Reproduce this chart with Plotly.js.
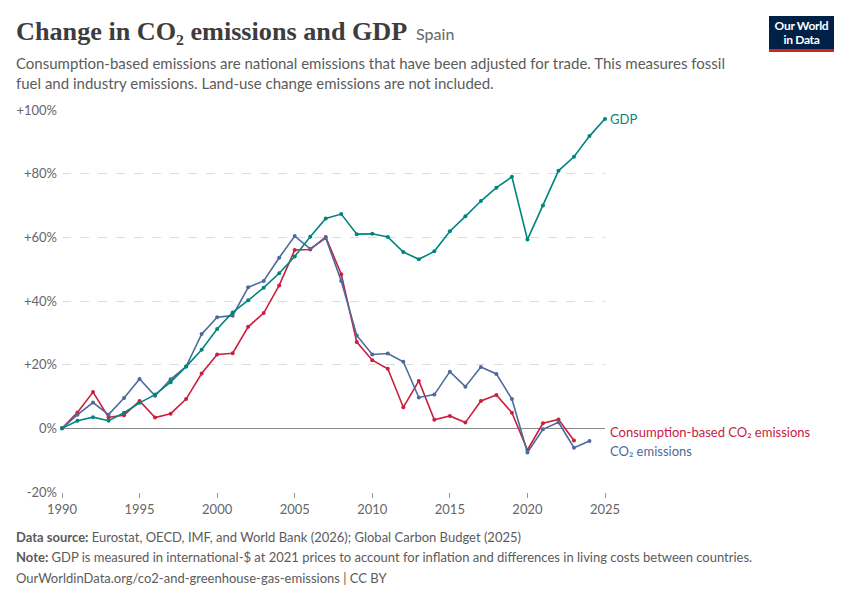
<!DOCTYPE html>
<html>
<head>
<meta charset="utf-8">
<script src="https://cdn.plot.ly/plotly-3.0.1.min.js"></script>
<style>
  html, body { margin: 0; padding: 0; background: #fff; }
  #chart { width: 850px; height: 600px; position: relative; }
  #logo { position: absolute; left: 769px; top: 16px; width: 65px; height: 36px; background: #002147;
          border-bottom: 3px solid #ce261e; box-sizing: border-box; color: #fff; font-family: Lato, sans-serif;
          font-weight: 700; font-size: 12px; text-align: center; padding-top: 3px; letter-spacing: -0.3px; }
  #logo div { line-height: 14px; height: 14px; }
</style>
</head>
<body>
<div id="chart"></div>
<div id="logo"><div>Our World</div><div>in Data</div></div>
<script>
const years = [1990,1991,1992,1993,1994,1995,1996,1997,1998,1999,2000,2001,2002,2003,2004,2005,2006,2007,2008,2009,2010,2011,2012,2013,2014,2015,2016,2017,2018,2019,2020,2021,2022,2023,2024,2025];

const gdp = [0,2.4,3.5,2.4,4.9,8.0,10.6,14.5,19.4,24.7,31.2,36.4,40.2,44.2,48.7,54.0,60.2,65.9,67.3,61.0,61.1,60.1,55.4,53.1,55.6,61.9,66.6,71.4,75.6,79.0,59.3,70.0,80.9,85.3,91.8,97.2];

const co2Years = years.slice(0, 35); // 1990-2024
const co2 = [0,4.3,8.1,4.3,9.5,15.5,10.2,15.4,19.4,29.6,34.9,35.4,44.3,46.3,53.6,60.4,56.4,59.8,46.3,29.2,23.2,23.5,20.9,9.7,10.6,17.8,13.1,19.3,17.1,9.2,-7.6,-0.3,1.9,-6.1,-4.0];

const consYears = years.slice(0, 34); // 1990-2023
const cons = [0,5.0,11.4,3.5,4.1,8.6,3.4,4.6,9.2,17.2,23.2,23.6,31.9,36.2,44.9,56.0,56.2,60.1,48.4,27.1,21.4,18.7,6.6,14.9,2.7,3.9,1.8,8.6,10.5,4.9,-6.8,1.6,2.8,-3.8];

const yTicks = [-20,0,20,40,60,80,100];
const yTickText = ['-20%','0%','+20%','+40%','+60%','+80%','+100%'];
const xTicks = [1990,1995,2000,2005,2010,2015,2020,2025];

const cGdp = '#00847e', cCons = '#c8203e', cCo2 = '#4c6a9c';

function series(x, y, color, name) {
  return { x: x, y: y, name: name, type: 'scatter', mode: 'lines+markers',
    line: { color: color, width: 1.6 }, marker: { color: color, size: 4 },
    hoverinfo: 'skip', showlegend: false, cliponaxis: false };
}

const traces = [
  series(consYears, cons, cCons, 'Consumption-based CO₂ emissions'),
  series(co2Years, co2, cCo2, 'CO₂ emissions'),
  series(years, gdp, cGdp, 'GDP')
];

// page-pixel helpers for text blocks outside the plot area
const M = { l: 62, r: 245, t: 110, b: 108 };
const PW = 850 - M.l - M.r, PH = 600 - M.t - M.b;
const px = v => (v - M.l) / PW;
const py = v => (600 - M.b - v) / PH;

const gray = '#5b5b5b';
function txt(x, y, text, font, extra) {
  return Object.assign({ xref: 'paper', yref: 'paper', x: px(x), y: py(y), xanchor: 'left', yanchor: 'middle',
    showarrow: false, align: 'left', text: text, font: font }, extra || {});
}
const footFont = { family: 'Lato, sans-serif', size: 13, color: gray };

const annotations = [
  txt(14, 31, '<b>Change in CO₂ emissions and GDP</b>', { family: 'Liberation Serif, serif', size: 26.2, color: '#3d3d3d' }),
  txt(414, 33, 'Spain', { family: 'Lato, sans-serif', size: 16, color: '#6e6e6e', weight: 500 }),
  txt(14, 52, 'Consumption-based emissions are national emissions that have been adjusted for trade. This measures fossil<br>fuel and industry emissions. Land-use change emissions are not included.',
    { family: 'Lato, sans-serif', size: 15, color: gray }, { yanchor: 'top' }),
  txt(14, 537, '<b>Data source:</b> Eurostat, OECD, IMF, and World Bank (2026); Global Carbon Budget (2025)', footFont),
  txt(14, 557, '<b>Note:</b> GDP is measured in international-$ at 2021 prices to account for inflation and differences in living costs between countries.', footFont),
  txt(14, 578, 'OurWorldinData.org/co2-and-greenhouse-gas-emissions | CC BY', footFont),
  // line labels at series ends
  { x: years[years.length-1], y: gdp[gdp.length-1], xref: 'x', yref: 'y', xanchor: 'left', yanchor: 'middle', xshift: 3, showarrow: false,
    text: 'GDP', font: { family: 'Lato, sans-serif', size: 13, color: cGdp } },
  { x: years[years.length-1], y: cons[cons.length-1], xref: 'x', yref: 'y', xanchor: 'left', yanchor: 'middle', xshift: 3, yshift: 8, showarrow: false,
    text: 'Consumption-based CO₂ emissions', font: { family: 'Lato, sans-serif', size: 13, color: cCons } },
  { x: years[years.length-1], y: co2[co2.length-1], xref: 'x', yref: 'y', xanchor: 'left', yanchor: 'middle', xshift: 3, yshift: -10, showarrow: false,
    text: 'CO₂ emissions', font: { family: 'Lato, sans-serif', size: 13, color: cCo2 } }
];

const layout = {
  width: 850, height: 600,
  margin: M,
  paper_bgcolor: '#fff', plot_bgcolor: '#fff',
  font: { family: 'Lato, sans-serif', color: '#666' },
  xaxis: {
    range: [1990, 2025], tickvals: xTicks, ticktext: xTicks.map(String),
    showgrid: false, zeroline: false, showline: false,
    ticks: 'outside', ticklen: 5, tickcolor: '#999', tickwidth: 1,
    tickfont: { family: 'Lato, sans-serif', size: 13, color: '#666' },
    fixedrange: true
  },
  yaxis: {
    range: [-20, 100], tickvals: yTicks, ticktext: yTickText,
    showgrid: true, gridcolor: '#dddddd', griddash: 'dash', gridwidth: 1,
    zeroline: true, zerolinecolor: '#8a8a8a', zerolinewidth: 1,
    showline: false, ticks: '', ticklabelstandoff: 4,
    tickfont: { family: 'Lato, sans-serif', size: 13, color: '#666' },
    fixedrange: true
  },
  annotations: annotations,
  showlegend: false
};

Plotly.newPlot('chart', traces, layout, { staticPlot: true, displayModeBar: false });
</script>
</body>
</html>
